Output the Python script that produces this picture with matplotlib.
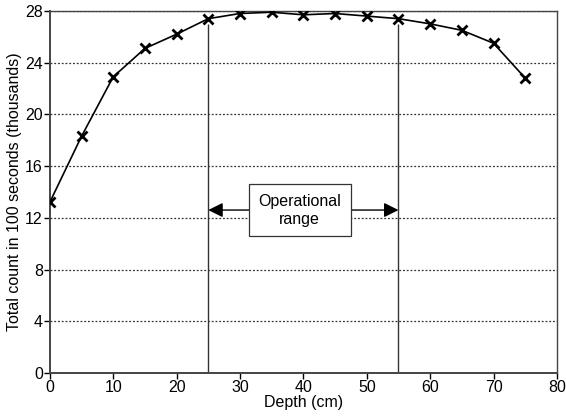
import matplotlib
matplotlib.use('Agg')
import matplotlib.pyplot as plt

plt.rcParams.update({
    'font.family': ['Liberation Sans', 'DejaVu Sans'],
    'font.size': 11.5,
})

# Depth profile of total count
depth_cm = [0, 5, 10, 15, 20, 25, 30, 35, 40, 45, 50, 55, 60, 65, 70, 75]
count_k = [13.2, 18.3, 22.9, 25.1, 26.2, 27.4, 27.8, 27.9, 27.7, 27.8,
           27.6, 27.4, 27.0, 26.5, 25.5, 22.8]

range_lo, range_hi = 25, 55
range_top = 27.0
arrow_y = 12.6
x_ticks = list(range(0, 81, 10))
y_ticks = list(range(0, 29, 4))

fig = plt.figure(figsize=(5.66, 4.20), dpi=100)
ax = fig.add_axes([0.088, 0.112, 0.896, 0.862])

ax.plot(depth_cm, count_k, color='black', linewidth=1.2, marker='x',
        markersize=7, markeredgewidth=2.0, zorder=3)

# operational range bounds
ax.vlines([range_lo, range_hi], 0, range_top, color='#333333', linewidth=1.0)

ax.text(39.4, arrow_y, 'Operational\nrange', ha='center', va='center',
        fontsize=11.5, linespacing=1.25,
        bbox=dict(boxstyle='square,pad=0.6', facecolor='white',
                  edgecolor='#333333', linewidth=0.9), zorder=4)
ax.annotate('', xy=(range_lo, arrow_y), xytext=(31.5, arrow_y),
            arrowprops=dict(arrowstyle='-|>', color='black', lw=1.0,
                            mutation_scale=22, shrinkA=0, shrinkB=0))
ax.annotate('', xy=(range_hi, arrow_y), xytext=(47.3, arrow_y),
            arrowprops=dict(arrowstyle='-|>', color='black', lw=1.0,
                            mutation_scale=22, shrinkA=0, shrinkB=0))

ax.set_xlim(0, 80)
ax.set_ylim(0, 28)
ax.set_xticks(x_ticks)
ax.set_yticks(y_ticks)
ax.yaxis.grid(True, linestyle=(0, (1.5, 1.5)), color='#333333', linewidth=0.9)
ax.set_axisbelow(True)
ax.tick_params(direction='out', length=4, width=1.0, pad=1)
for s in ax.spines.values():
    s.set_color('#444444')
    s.set_linewidth(1.0)
ax.spines['left'].set_linewidth(1.4)
ax.spines['bottom'].set_linewidth(1.4)

ax.set_xlabel('Depth (cm)', labelpad=0)
ax.set_ylabel('Total count in 100 seconds (thousands)', labelpad=2)

fig.savefig('out.png', dpi=100)
